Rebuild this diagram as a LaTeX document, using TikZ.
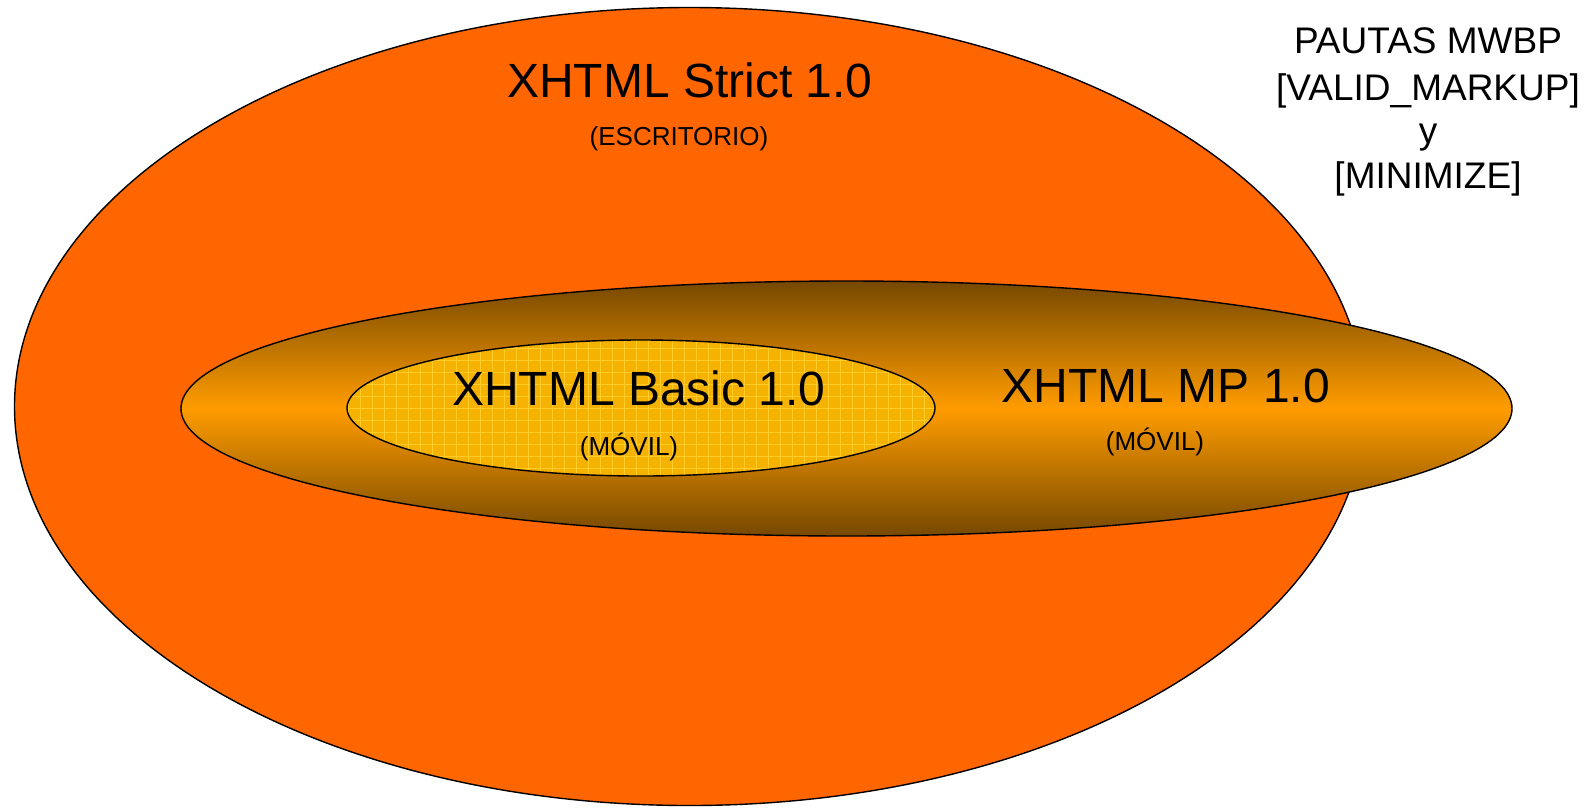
\documentclass[tikz,border=0pt]{standalone}
\usepackage{fontspec}
\setmainfont{Liberation Sans}
\usetikzlibrary{shapes.geometric}
\definecolor{strictorange}{RGB}{255,102,0}
\definecolor{mpdark}{RGB}{118,72,0}
\definecolor{mporange}{RGB}{255,156,0}
\definecolor{basicfill}{RGB}{246,178,0}
\definecolor{basicgrid}{RGB}{255,204,40}
\begin{document}
\begin{tikzpicture}[
    x=1pt, y=-1pt,
    ring/.style={ellipse, inner sep=0pt, outer sep=0pt},
    edge/.style={draw=black, line width=1.4pt},
    big/.style={anchor=base, inner sep=0pt, font=\fontsize{48}{50}\selectfont},
    small/.style={anchor=base, inner sep=0pt, font=\fontsize{26}{28}\selectfont},
    pauta/.style={anchor=base, inner sep=0pt, font=\fontsize{37}{40}\selectfont}
]
\useasboundingbox (0,0) rectangle (1596,807);

% outer set
\node[ring, edge, fill=strictorange, minimum width=1350, minimum height=798] (strict) at (689.5,406.5) {};

% mobile profile
\node[ring, edge, top color=mpdark, bottom color=mpdark, middle color=mporange,
      minimum width=1331, minimum height=255] (mp) at (846.5,408.5) {};

% basic, gridded fill
\node[ring, fill=basicfill, minimum width=588, minimum height=136] (basic) at (641,408) {};
\begin{scope}
    \clip (basic.center) ellipse [x radius=294, y radius=68];
    \draw[basicgrid, line width=0.8pt, step=12pt] (basic.west |- basic.south) grid (basic.east |- basic.north);
\end{scope}
\draw[edge] (basic.center) ellipse [x radius=294, y radius=68];

% labels
\node[big] (strictname) at (690,97) {XHTML Strict 1.0};
\node[small] (strictuse) at (679,145) {(ESCRITORIO)};
\node[big] (basicname) at (639,405) {XHTML Basic 1.0};
\node[small] (basicuse) at (629,455) {(MÓVIL)};
\node[big] (mpname) at (1166,402) {XHTML MP 1.0};
\node[small] (mpuse) at (1155,450) {(MÓVIL)};

\node[pauta] (p1) at (1428,53) {PAUTAS MWBP};
\node[pauta] (p2) at (1428,100) {[VALID\_MARKUP]};
\node[pauta] (p3) at (1428,143) {y};
\node[pauta] (p4) at (1428,188) {[MINIMIZE]};
\end{tikzpicture}
\end{document}
